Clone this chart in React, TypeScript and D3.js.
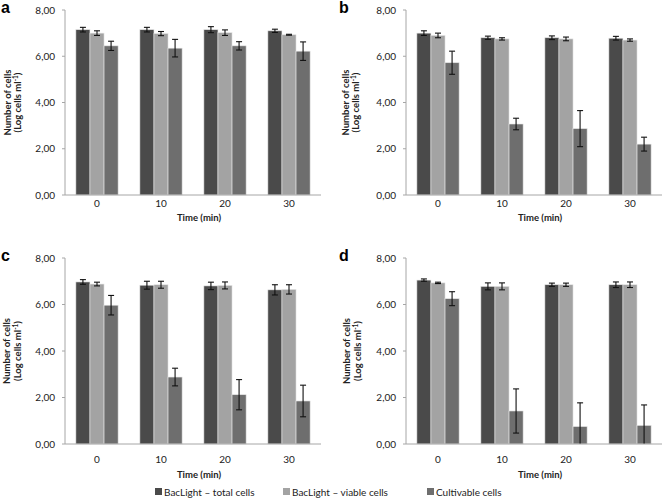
import React from "react";
import * as d3 from "d3";

const categories = ["0", "10", "20", "30"];
const seriesNames = ["BacLight \u2013 total cells", "BacLight \u2013 viable cells", "Cultivable cells"];
const seriesColors = ["#4a4a4a", "#a3a3a3", "#6e6e6e"];
const yTicks = [0, 2, 4, 6, 8];

// panel a
const aTotal = [7.15, 7.15, 7.15, 7.1];
const aTotalErr = [0.1, 0.1, 0.13, 0.07];
const aViable = [7.0, 6.98, 7.02, 6.93];
const aViableErr = [0.1, 0.09, 0.12, 0.02];
const aCult = [6.45, 6.35, 6.45, 6.22];
const aCultErr = [0.2, 0.38, 0.18, 0.4];

// panel b
const bTotal = [7.0, 6.8, 6.8, 6.78];
const bTotalErr = [0.1, 0.07, 0.08, 0.08];
const bViable = [6.9, 6.75, 6.75, 6.7];
const bViableErr = [0.1, 0.05, 0.08, 0.05];
const bCult = [5.72, 3.07, 2.87, 2.2];
const bCultErr = [0.5, 0.25, 0.78, 0.3];

// panel c
const cTotal = [6.97, 6.83, 6.8, 6.63];
const cTotalErr = [0.1, 0.17, 0.16, 0.22];
const cViable = [6.88, 6.85, 6.82, 6.65];
const cViableErr = [0.08, 0.15, 0.15, 0.2];
const cCult = [5.97, 2.88, 2.12, 1.85];
const cCultErr = [0.42, 0.38, 0.65, 0.68];

// panel d
const dTotal = [7.05, 6.78, 6.85, 6.85];
const dTotalErr = [0.05, 0.15, 0.07, 0.12];
const dViable = [6.93, 6.78, 6.85, 6.85];
const dViableErr = [0.03, 0.15, 0.07, 0.12];
const dCult = [6.25, 1.42, 0.75, 0.8];
const dCultErr = [0.3, 0.95, 1.02, 0.88];

const panels = [
  { label: "a", x0: 65, y0: 10, y1: 195, tickDy: 12, titleDy: 26, titleX: [8, 18], vals: [aTotal, aViable, aCult], errs: [aTotalErr, aViableErr, aCultErr] },
  { label: "b", x0: 406, y0: 10, y1: 195, tickDy: 12, titleDy: 26, titleX: [346, 356], vals: [bTotal, bViable, bCult], errs: [bTotalErr, bViableErr, bCultErr] },
  { label: "c", x0: 65, y0: 258, y1: 444, tickDy: 19, titleDy: 34, titleX: [7, 18], vals: [cTotal, cViable, cCult], errs: [cTotalErr, cViableErr, cCultErr] },
  { label: "d", x0: 406, y0: 258, y1: 444, tickDy: 19, titleDy: 34, titleX: [347, 358], vals: [dTotal, dViable, dCult], errs: [dTotalErr, dViableErr, dCultErr] },
];

const FONT = "Lato, 'Open Sans', sans-serif";
const PLOT_W = 256;

function Panel({ p }: { p: (typeof panels)[number] }) {
  const x = d3.scaleBand().domain(categories).range([p.x0, p.x0 + PLOT_W]).paddingInner(0.34).paddingOuter(0.17);
  const inner = d3.scaleBand().domain(["0", "1", "2"]).range([0, x.bandwidth()]);
  const y = d3.scaleLinear().domain([0, 8]).range([p.y1, p.y0]);
  const fmt = (v: number) => v.toFixed(2).replace(".", ",");
  const midY = (p.y0 + p.y1) / 2;
  const midX = p.x0 + PLOT_W / 2 + 6;
  return (
    <g>
      <text x={p.label === "a" || p.label === "c" ? 1 : 339} y={p.y0 + 3} fontFamily="Arial, sans-serif" fontWeight="bold" fontSize={16}>
        {p.label}
      </text>
      {/* bars */}
      {p.vals.map((series, si) =>
        series.map((v, ci) => {
          const bx = (x(categories[ci]) as number) + (inner(String(si)) as number);
          const bw = inner.bandwidth();
          return (
            <rect key={`b${si}-${ci}`} x={bx} y={y(v)} width={bw} height={y(0) - y(v)} fill={seriesColors[si]} stroke="#e6e6e6" strokeWidth={0.6} />
          );
        })
      )}
      {/* error bars */}
      {p.vals.map((series, si) =>
        series.map((v, ci) => {
          const cx = (x(categories[ci]) as number) + (inner(String(si)) as number) + inner.bandwidth() / 2;
          const e = p.errs[si][ci];
          const lo = Math.max(0, v - e);
          const hi = v + e;
          return (
            <g key={`e${si}-${ci}`} stroke="#111" strokeWidth={1.1}>
              <line x1={cx} x2={cx} y1={y(lo)} y2={y(hi)} />
              <line x1={cx - 3} x2={cx + 3} y1={y(hi)} y2={y(hi)} />
              {v - e > 0 && <line x1={cx - 3} x2={cx + 3} y1={y(lo)} y2={y(lo)} />}
            </g>
          );
        })
      )}
      {/* axes */}
      <line x1={p.x0} x2={p.x0} y1={p.y0} y2={p.y1} stroke="#a6a6a6" strokeWidth={1} />
      <line x1={p.x0} x2={p.x0 + PLOT_W} y1={p.y1} y2={p.y1} stroke="#a6a6a6" strokeWidth={1} />
      {yTicks.map((t) => (
        <g key={t}>
          <line x1={p.x0 - 3} x2={p.x0} y1={y(t)} y2={y(t)} stroke="#a6a6a6" />
          <text x={p.x0 - 10} y={y(t) + 3.5} textAnchor="end" fontFamily={FONT} fontSize={10} fill="#222">
            {fmt(t)}
          </text>
        </g>
      ))}
      {categories.map((c) => (
        <text key={c} x={(x(c) as number) + x.bandwidth() / 2} y={p.y1 + p.tickDy} textAnchor="middle" fontFamily={FONT} fontSize={10} fill="#222">
          {c}
        </text>
      ))}
      <text x={midX} y={p.y1 + p.titleDy} textAnchor="middle" fontFamily={FONT} fontWeight="bold" fontSize={9.5} fill="#222">
        Time (min)
      </text>
      <text transform={`translate(${p.titleX[0] + 3},${midY}) rotate(-90)`} textAnchor="middle" fontFamily={FONT} fontWeight="bold" fontSize={9.5} fill="#222">
        Number of cells
      </text>
      <text transform={`translate(${p.titleX[1] + 3},${midY}) rotate(-90)`} textAnchor="middle" fontFamily={FONT} fontWeight="bold" fontSize={9.5} fill="#222">
        (Log cells ml
        <tspan fontSize={6.5} dy={-3}>-1</tspan>
        <tspan dy={3}>)</tspan>
      </text>
    </g>
  );
}

const legendX = [155, 283, 427];

export default function App() {
  return (
    <svg width={664} height={499} style={{ position: "absolute", left: 0, top: 0, background: "#fff" }}>
      <rect width={664} height={499} fill="#fff" />
      {panels.map((p) => (
        <Panel key={p.label} p={p} />
      ))}
      {seriesNames.map((n, i) => (
        <g key={n}>
          <rect x={legendX[i]} y={488} width={7} height={7} fill={seriesColors[i]} />
          <text x={legendX[i] + 9} y={495.5} fontFamily={FONT} fontSize={10} fill="#222">
            {n}
          </text>
        </g>
      ))}
    </svg>
  );
}
